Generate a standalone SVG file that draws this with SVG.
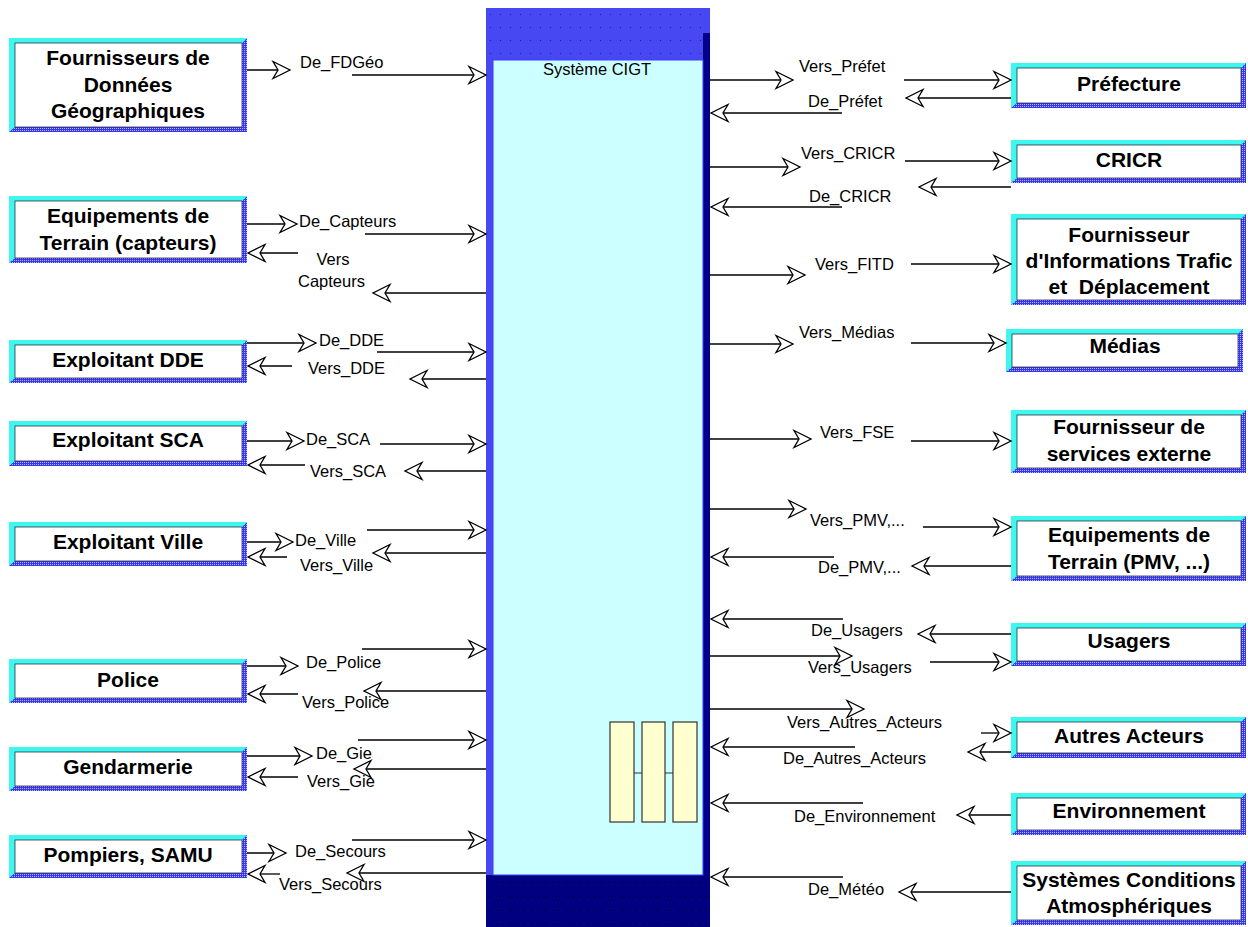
<svg xmlns="http://www.w3.org/2000/svg" width="1248" height="927" viewBox="0 0 1248 927">
<defs>
<pattern id="bdots" width="2" height="2" patternUnits="userSpaceOnUse"><rect width="2" height="2" fill="#3535f5"/><rect width="1" height="1" fill="#b8b8ff"/></pattern>
<pattern id="tdots" x="486" y="8" width="10" height="13" patternUnits="userSpaceOnUse"><rect width="10" height="13" fill="#4848f2"/><rect x="4" y="6" width="1" height="1" fill="#1c1ca8"/></pattern>
<pattern id="ndots" x="486" y="875" width="7" height="14" patternUnits="userSpaceOnUse"><rect width="7" height="14" fill="#000080"/><rect x="3" y="7" width="1" height="1" fill="#000000"/></pattern>
<marker id="ah" viewBox="-20 -11 22 22" refX="0" refY="0" markerWidth="22" markerHeight="22" orient="auto" markerUnits="userSpaceOnUse"><path d="M-17,-8.5 L0,0 L-17,8.5 L-12,0 Z" fill="#fff" stroke="#000" stroke-width="1.3" stroke-linejoin="miter"/></marker>
<style>
.bx{fill:url(#bdots)}
.bv{fill:#3cf8ee}
.in{fill:#fff;stroke:#303040;stroke-width:0.8}
.t{font-family:"Liberation Sans",Arial,sans-serif;font-weight:bold;font-size:21px;fill:#000;text-anchor:middle}
.lb{font-family:"Liberation Sans",Arial,sans-serif;font-size:16.5px;fill:#000}
.c{fill:none;stroke:#000;stroke-width:1.3;marker-end:url(#ah)}
</style>
</defs>
<rect width="1248" height="927" fill="#fff"/>

<g id="n-cigt">
<rect x="486" y="8" width="224" height="919" fill="#4848f2"/>
<rect x="486" y="8" width="224" height="52" fill="url(#tdots)"/>
<rect x="703" y="33" width="7" height="842" fill="#00008b"/>
<rect x="486" y="875" width="224" height="52" fill="url(#ndots)"/>
<rect x="493" y="60" width="210" height="815" fill="#ccffff" stroke="#3c3cff" stroke-width="1"/>
<text x="597" y="75" class="lb" text-anchor="middle">Système CIGT</text>
<g fill="#ffffd0" stroke="#333" stroke-width="1.2">
<rect x="610" y="722" width="24" height="100"/>
<rect x="642" y="722" width="23" height="100"/>
<rect x="673" y="722" width="24" height="100"/>
<path d="M634,773 H642 M665,773 H673" fill="none"/>
</g>
</g>

<g id="n-fdg"><rect x="9" y="38" width="238" height="94" class="bx"/><polygon class="bv" points="9,38 247,38 242,43 15,43 15,127 9,132"/><rect x="15" y="43" width="227" height="84" class="in"/><text class="t" x="128" y="65">Fournisseurs de</text><text class="t" x="128" y="92">Données</text><text class="t" x="128" y="118">Géographiques</text></g>
<g id="n-capteurs"><rect x="9" y="196" width="238" height="67" class="bx"/><polygon class="bv" points="9,196 247,196 242,201 15,201 15,258 9,263"/><rect x="15" y="201" width="227" height="57" class="in"/><text class="t" x="128" y="223">Equipements de</text><text class="t" x="128" y="250">Terrain (capteurs)</text></g>
<g id="n-dde"><rect x="9" y="340" width="238" height="43" class="bx"/><polygon class="bv" points="9,340 247,340 242,345 15,345 15,378 9,383"/><rect x="15" y="345" width="227" height="33" class="in"/><text class="t" x="128" y="367">Exploitant DDE</text></g>
<g id="n-sca"><rect x="9" y="421" width="238" height="45" class="bx"/><polygon class="bv" points="9,421 247,421 242,426 15,426 15,461 9,466"/><rect x="15" y="426" width="227" height="35" class="in"/><text class="t" x="128" y="447">Exploitant SCA</text></g>
<g id="n-ville"><rect x="9" y="522" width="238" height="44" class="bx"/><polygon class="bv" points="9,522 247,522 242,527 15,527 15,561 9,566"/><rect x="15" y="527" width="227" height="34" class="in"/><text class="t" x="128" y="549">Exploitant Ville</text></g>
<g id="n-police"><rect x="9" y="659" width="238" height="44" class="bx"/><polygon class="bv" points="9,659 247,659 242,664 15,664 15,698 9,703"/><rect x="15" y="664" width="227" height="34" class="in"/><text class="t" x="128" y="687">Police</text></g>
<g id="n-gie"><rect x="9" y="747" width="238" height="44" class="bx"/><polygon class="bv" points="9,747 247,747 242,752 15,752 15,786 9,791"/><rect x="15" y="752" width="227" height="34" class="in"/><text class="t" x="128" y="774">Gendarmerie</text></g>
<g id="n-secours"><rect x="9" y="835" width="238" height="43" class="bx"/><polygon class="bv" points="9,835 247,835 242,840 15,840 15,873 9,878"/><rect x="15" y="840" width="227" height="33" class="in"/><text class="t" x="128" y="862">Pompiers, SAMU</text></g>

<g id="n-prefecture"><rect x="1011" y="63" width="235" height="45" class="bx"/><polygon class="bv" points="1011,63 1246,63 1241,68 1017,68 1017,103 1011,108"/><rect x="1017" y="68" width="224" height="35" class="in"/><text class="t" x="1129" y="91">Préfecture</text></g>
<g id="n-cricr"><rect x="1011" y="140" width="235" height="43" class="bx"/><polygon class="bv" points="1011,140 1246,140 1241,145 1017,145 1017,178 1011,183"/><rect x="1017" y="145" width="224" height="33" class="in"/><text class="t" x="1129" y="167">CRICR</text></g>
<g id="n-fitd"><rect x="1011" y="214" width="235" height="91" class="bx"/><polygon class="bv" points="1011,214 1246,214 1241,219 1017,219 1017,300 1011,305"/><rect x="1017" y="219" width="224" height="81" class="in"/><text class="t" x="1129" y="242">Fournisseur</text><text class="t" x="1129" y="268">d'Informations Trafic</text><text class="t" x="1129" y="294" xml:space="preserve">et  Déplacement</text></g>
<g id="n-medias"><rect x="1006" y="329" width="237" height="43" class="bx"/><polygon class="bv" points="1006,329 1243,329 1238,334 1012,334 1012,367 1006,372"/><rect x="1012" y="334" width="226" height="33" class="in"/><text class="t" x="1125" y="353">Médias</text></g>
<g id="n-fse"><rect x="1011" y="410" width="235" height="63" class="bx"/><polygon class="bv" points="1011,410 1246,410 1241,415 1017,415 1017,468 1011,473"/><rect x="1017" y="415" width="224" height="53" class="in"/><text class="t" x="1129" y="434">Fournisseur de</text><text class="t" x="1129" y="461">services externe</text></g>
<g id="n-pmv"><rect x="1011" y="516" width="235" height="65" class="bx"/><polygon class="bv" points="1011,516 1246,516 1241,521 1017,521 1017,576 1011,581"/><rect x="1017" y="521" width="224" height="55" class="in"/><text class="t" x="1129" y="542">Equipements de</text><text class="t" x="1129" y="569">Terrain (PMV, ...)</text></g>
<g id="n-usagers"><rect x="1011" y="623" width="235" height="43" class="bx"/><polygon class="bv" points="1011,623 1246,623 1241,628 1017,628 1017,661 1011,666"/><rect x="1017" y="628" width="224" height="33" class="in"/><text class="t" x="1129" y="648">Usagers</text></g>
<g id="n-autres"><rect x="1011" y="717" width="235" height="41" class="bx"/><polygon class="bv" points="1011,717 1246,717 1241,722 1017,722 1017,753 1011,758"/><rect x="1017" y="722" width="224" height="31" class="in"/><text class="t" x="1129" y="743">Autres Acteurs</text></g>
<g id="n-env"><rect x="1011" y="793" width="235" height="42" class="bx"/><polygon class="bv" points="1011,793 1246,793 1241,798 1017,798 1017,830 1011,835"/><rect x="1017" y="798" width="224" height="32" class="in"/><text class="t" x="1129" y="818">Environnement</text></g>
<g id="n-meteo"><rect x="1011" y="861" width="235" height="64" class="bx"/><polygon class="bv" points="1011,861 1246,861 1241,866 1017,866 1017,920 1011,925"/><rect x="1017" y="866" width="224" height="54" class="in"/><text class="t" x="1129" y="887">Systèmes Conditions</text><text class="t" x="1129" y="913">Atmosphériques</text></g>

<g id="connectors">
<path class="c" d="M247,70 H290"/><path class="c" d="M352,75 H486"/><text class="lb" x="300" y="68">De_FDGéo</text>
<path class="c" d="M247,224 H297"/><path class="c" d="M365,234 H486"/><text class="lb" x="299" y="227">De_Capteurs</text>
<path class="c" d="M486,293 H373"/><path class="c" d="M298,253 H248"/><text class="lb"><tspan x="333" y="265" text-anchor="middle">Vers</tspan><tspan x="298" y="287">Capteurs</tspan></text>
<path class="c" d="M247,343 H316"/><path class="c" d="M377,352 H486"/><text class="lb" x="319" y="346">De_DDE</text>
<path class="c" d="M486,379 H410"/><path class="c" d="M292,366 H248"/><text class="lb" x="308" y="374">Vers_DDE</text>
<path class="c" d="M247,441 H304"/><path class="c" d="M380,444 H486"/><text class="lb" x="306" y="445">De_SCA</text>
<path class="c" d="M486,471 H405"/><path class="c" d="M305,465 H248"/><text class="lb" x="310" y="477">Vers_SCA</text>
<path class="c" d="M247,542 H293"/><path class="c" d="M367,530 H486"/><text class="lb" x="295" y="546">De_Ville</text>
<path class="c" d="M486,553 H373"/><path class="c" d="M287,557 H248"/><text class="lb" x="300" y="571">Vers_Ville</text>
<path class="c" d="M247,666 H298"/><path class="c" d="M362,649 H486"/><text class="lb" x="306" y="668">De_Police</text>
<path class="c" d="M486,691 H364"/><path class="c" d="M298,694 H248"/><text class="lb" x="302" y="708">Vers_Police</text>
<path class="c" d="M247,756 H312"/><path class="c" d="M358,740 H486"/><text class="lb" x="316" y="759">De_Gie</text>
<path class="c" d="M486,769 H354"/><path class="c" d="M298,777 H248"/><text class="lb" x="307" y="787">Vers_Gie</text>
<path class="c" d="M247,853 H286"/><path class="c" d="M352,840 H486"/><text class="lb" x="295" y="857">De_Secours</text>
<path class="c" d="M486,873 H347"/><path class="c" d="M280,874 H248"/><text class="lb" x="279" y="890">Vers_Secours</text>

<path class="c" d="M710,80 H793"/><path class="c" d="M904,80 H1011"/><text class="lb" x="799" y="72">Vers_Préfet</text>
<path class="c" d="M1011,98 H906"/><path class="c" d="M842,113 H711"/><text class="lb" x="808" y="107">De_Préfet</text>
<path class="c" d="M710,167 H800"/><path class="c" d="M905,161 H1011"/><text class="lb" x="801" y="159">Vers_CRICR</text>
<path class="c" d="M1011,187 H919"/><path class="c" d="M842,207 H711"/><text class="lb" x="809" y="202">De_CRICR</text>
<path class="c" d="M710,275 H805"/><path class="c" d="M911,264 H1011"/><text class="lb" x="815" y="270">Vers_FITD</text>
<path class="c" d="M710,344 H793"/><path class="c" d="M911,343 H1006"/><text class="lb" x="799" y="338">Vers_Médias</text>
<path class="c" d="M710,439 H811"/><path class="c" d="M911,441 H1011"/><text class="lb" x="820" y="438">Vers_FSE</text>
<path class="c" d="M710,509 H806"/><path class="c" d="M923,527 H1011"/><text class="lb" x="810" y="526">Vers_PMV,...</text>
<path class="c" d="M1011,566 H912"/><path class="c" d="M834,557 H711"/><text class="lb" x="818" y="573">De_PMV,...</text>
<path class="c" d="M1011,634 H918"/><path class="c" d="M843,619 H711"/><text class="lb" x="811" y="636">De_Usagers</text>
<path class="c" d="M710,656 H852"/><path class="c" d="M930,662 H1011"/><text class="lb" x="808" y="673">Vers_Usagers</text>
<path class="c" d="M710,709 H864"/><path class="c" d="M981,733 H1011"/><text class="lb" x="787" y="728">Vers_Autres_Acteurs</text>
<path class="c" d="M1011,752 H968"/><path class="c" d="M855,747 H711"/><text class="lb" x="783" y="764">De_Autres_Acteurs</text>
<path class="c" d="M1011,815 H957"/><path class="c" d="M863,803 H711"/><text class="lb" x="794" y="822">De_Environnement</text>
<path class="c" d="M1011,892 H899"/><path class="c" d="M843,877 H711"/><text class="lb" x="808" y="895">De_Météo</text>
</g>
</svg>
